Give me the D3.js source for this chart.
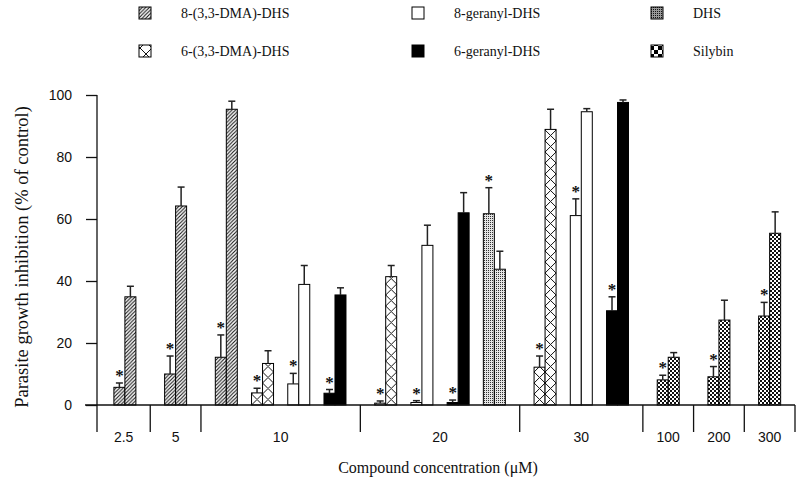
<!DOCTYPE html>
<html><head><meta charset="utf-8">
<script src="https://cdn.jsdelivr.net/npm/d3@7"></script>
<style>body{margin:0;background:#fff}</style>
</head><body><svg id="c" width="800" height="483" xmlns="http://www.w3.org/2000/svg"></svg>
<script>
// ---- data ----
const concentrations = ["2.5","5","10","20","30","100","200","300"];
const compounds = ["8-(3,3-DMA)-DHS","6-(3,3-DMA)-DHS","8-geranyl-DHS","6-geranyl-DHS","DHS","Silybin"];
const pairConcentration = ["2.5","5","10","10","10","10","20","20","20","20","30","30","30","100","200","300"];
const pairCompound = ["8-(3,3-DMA)-DHS","8-(3,3-DMA)-DHS","8-(3,3-DMA)-DHS","6-(3,3-DMA)-DHS","8-geranyl-DHS","6-geranyl-DHS",
  "6-(3,3-DMA)-DHS","8-geranyl-DHS","6-geranyl-DHS","DHS","6-(3,3-DMA)-DHS","8-geranyl-DHS","6-geranyl-DHS","Silybin","Silybin","Silybin"];
const valuesA = [5.7, 10.0, 15.4, 3.9, 6.8, 3.8, 0.6, 0.8, 0.8, 61.7, 12.2, 61.1, 30.4, 8.1, 9.1, 28.7];
const errorsA = [1.4, 5.8, 7.2, 1.5, 3.4, 1.2, 0.7, 0.6, 0.8, 8.4, 3.6, 5.4, 4.5, 1.5, 3.3, 4.4];
const valuesB = [34.9, 64.2, 95.4, 13.4, 38.9, 35.5, 41.4, 51.5, 62.0, 43.8, 88.9, 94.6, 97.6, 15.4, 27.4, 55.4];
const errorsB = [3.4, 6.1, 2.6, 4.1, 6.1, 2.3, 3.6, 6.5, 6.5, 5.8, 6.5, 1.0, 0.8, 1.5, 6.4, 6.9];
const significantA = [1,1,1,1,1,1,1,1,1,1,1,1,1,1,1,1];
const yTicks = [0, 20, 40, 60, 80, 100];
const xTitle = "Compound concentration (\u03BCM)";
const yTitle = "Parasite growth inhibition (% of control)";

// ---- layout ----
const svg = d3.select("#c");
const defs = svg.append("defs");
const serif = "'Liberation Serif','Times New Roman',serif";
const sans = "'Liberation Sans',Arial,sans-serif";
const GAP = 0.4, BW = 11;

const pairs = pairCompound.map((c, i) => {
  const g = concentrations.indexOf(pairConcentration[i]);
  return {i, c, g, u: i + GAP * g, vA: valuesA[i], eA: errorsA[i], vB: valuesB[i], eB: errorsB[i], sig: significantA[i]};
});
const uMax = d3.max(pairs, d => d.u);
const x = d3.scaleLinear().domain([-0.77, uMax + 0.7]).range([97, 795]);
const y = d3.scaleLinear().domain([0, 100]).range([405, 95]);

// group extents
const groups = concentrations.map((c, g) => {
  const ps = pairs.filter(p => p.g === g);
  return {c, g, lo: d3.min(ps, p => p.u), hi: d3.max(ps, p => p.u)};
});
groups.forEach((gr, k) => {
  gr.left = k === 0 ? x.domain()[0] : (gr.lo + groups[k - 1].hi) / 2;
  gr.right = k === groups.length - 1 ? x.domain()[1] : (gr.hi + groups[k + 1].lo) / 2;
});

// ---- patterns ----
const hatch = defs.append("pattern").attr("id", "hatch").attr("patternUnits", "userSpaceOnUse")
  .attr("width", 3.6).attr("height", 3.6);
hatch.append("rect").attr("width", 3.6).attr("height", 3.6).attr("fill", "#fff");
hatch.append("path").attr("d", "M-0.9,0.9 L0.9,-0.9 M0,3.6 L3.6,0 M2.7,4.5 L4.5,2.7")
  .attr("stroke", "#111").attr("stroke-width", 1.1);

const stip = defs.append("pattern").attr("id", "stipple").attr("patternUnits", "userSpaceOnUse")
  .attr("width", 2).attr("height", 2);
stip.append("rect").attr("width", 2).attr("height", 2).attr("fill", "#e6e6e6");
stip.append("rect").attr("width", 1).attr("height", 1).attr("fill", "#333");

const stipL = defs.append("pattern").attr("id", "stippleL").attr("patternUnits", "userSpaceOnUse")
  .attr("width", 2).attr("height", 2);
stipL.append("rect").attr("width", 2).attr("height", 2).attr("fill", "#999");
stipL.append("rect").attr("width", 1).attr("height", 1).attr("fill", "#111");

const chk = defs.append("pattern").attr("id", "checker").attr("patternUnits", "userSpaceOnUse")
  .attr("width", 4).attr("height", 4);
chk.append("rect").attr("width", 4).attr("height", 4).attr("fill", "#fff");
chk.append("rect").attr("width", 2).attr("height", 2).attr("fill", "#111");
chk.append("rect").attr("x", 2).attr("y", 2).attr("width", 2).attr("height", 2).attr("fill", "#111");

function crossPattern(id, ox, oy, s) {
  const p = defs.append("pattern").attr("id", id).attr("patternUnits", "userSpaceOnUse")
    .attr("x", ox).attr("y", oy).attr("width", s).attr("height", s);
  p.append("rect").attr("width", s).attr("height", s).attr("fill", "#fff");
  p.append("path").attr("d", `M0,0 L${s},${s} M${s},0 L0,${s}`).attr("stroke", "#111").attr("stroke-width", 1);
}

function fillFor(c, id, bx, by) {
  switch (c) {
    case compounds[0]: return "url(#hatch)";
    case compounds[1]: crossPattern(id, bx, by, BW); return `url(#${id})`;
    case compounds[2]: return "#fff";
    case compounds[3]: return "#000";
    case compounds[4]: return "url(#stipple)";
    default: return "url(#checker)";
  }
}

// ---- bars ----
const barsG = svg.append("g");
pairs.forEach(p => {
  const xc = x(p.u);
  [[p.vA, p.eA, xc - BW, "A"], [p.vB, p.eB, xc, "B"]].forEach(([v, e, bx, s]) => {
    const top = y(v);
    barsG.append("rect")
      .attr("x", bx).attr("y", top).attr("width", BW).attr("height", y(0) - top)
      .attr("fill", fillFor(p.c, `cx${p.i}${s}`, bx, y(0)))
      .attr("stroke", "#000").attr("stroke-width", 1);
    const cx = bx + BW / 2, et = y(v + e);
    barsG.append("line").attr("x1", cx).attr("x2", cx).attr("y1", top).attr("y2", et)
      .attr("stroke", "#222").attr("stroke-width", 1.5);
    barsG.append("line").attr("x1", cx - 3.5).attr("x2", cx + 3.5).attr("y1", et).attr("y2", et)
      .attr("stroke", "#222").attr("stroke-width", 1.5);
    if (s === "A" && p.sig) {
      barsG.append("text").attr("x", cx).attr("y", et - 2).attr("text-anchor", "middle")
        .attr("font-family", serif).attr("font-size", 17).attr("font-weight", "bold").attr("fill", "#111").text("*");
    }
  });
});

// ---- axes ----
const yAx = svg.append("g").attr("transform", `translate(97,0)`)
  .call(d3.axisLeft(y).tickValues(yTicks).tickSize(11).tickPadding(14).tickFormat(d3.format("d")));
yAx.select(".domain").remove();
yAx.selectAll(".tick line").attr("stroke", "#111").attr("stroke-width", 1.3);
yAx.selectAll(".tick text").attr("font-family", sans).attr("font-size", 14).attr("fill", "#111");

svg.append("line").attr("x1", 97).attr("x2", 97).attr("y1", y(100)).attr("y2", 432)
  .attr("stroke", "#111").attr("stroke-width", 1.3);
svg.append("line").attr("x1", 85).attr("x2", x.range()[1]).attr("y1", y(0)).attr("y2", y(0))
  .attr("stroke", "#111").attr("stroke-width", 1.3);

// group separators and labels
groups.forEach(gr => {
  const sx = x(gr.right);
  svg.append("line").attr("x1", sx).attr("x2", sx).attr("y1", y(0)).attr("y2", 432)
    .attr("stroke", "#111").attr("stroke-width", 1.3);
  svg.append("text").attr("x", (x(gr.left) + x(gr.right)) / 2).attr("y", 437).attr("dy", "0.35em")
    .attr("text-anchor", "middle").attr("font-family", sans).attr("font-size", 14).attr("fill", "#111")
    .text(gr.c);
});

// titles
svg.append("text").attr("x", 438).attr("y", 473).attr("text-anchor", "middle")
  .attr("font-family", serif).attr("font-size", 16).attr("fill", "#111").text(xTitle);
svg.append("text").attr("transform", "translate(28,257) rotate(-90)").attr("text-anchor", "middle")
  .attr("font-family", serif).attr("font-size", 18.5).attr("fill", "#111").text(yTitle);

// ---- legend ----
const colX = [139, 412, 651], rowY = [13, 51];
compounds.forEach((c, k) => {
  const lx = colX[Math.floor(k / 2)], ly = rowY[k % 2];
  const g = svg.append("g").attr("transform", `translate(${lx},${ly - 6})`);
  let fill;
  if (k === 1) { crossPattern("crossL", lx, ly - 6, 12); fill = "url(#crossL)"; }
  else if (k === 4) fill = "url(#stippleL)";
  else if (k === 5) {
    const p = defs.append("pattern").attr("id", "checkL").attr("patternUnits", "userSpaceOnUse")
      .attr("x", lx).attr("y", ly - 6).attr("width", 8).attr("height", 8);
    p.append("rect").attr("width", 8).attr("height", 8).attr("fill", "#fff");
    p.append("rect").attr("width", 4).attr("height", 4).attr("fill", "#000");
    p.append("rect").attr("x", 4).attr("y", 4).attr("width", 4).attr("height", 4).attr("fill", "#000");
    fill = "url(#checkL)";
  } else fill = fillFor(c, "", 0, 0);
  g.append("rect").attr("width", 12).attr("height", 12).attr("fill", fill)
    .attr("stroke", "#000").attr("stroke-width", 1);
  svg.append("text").attr("x", lx + 42).attr("y", ly).attr("dy", "0.35em")
    .attr("font-family", serif).attr("font-size", 14).attr("fill", "#111").text(c);
});
</script>
</body></html>
